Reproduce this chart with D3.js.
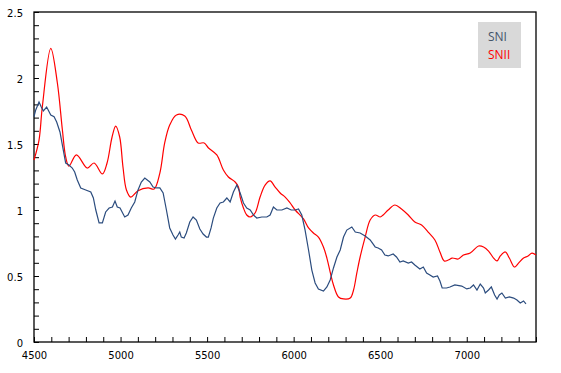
<!DOCTYPE html>
<html>
<head>
<meta charset="utf-8">
<script src="https://cdn.jsdelivr.net/npm/d3@7"></script>
<style>
  body { margin: 0; background: #fff; }
  .tick text { font-family: "DejaVu Sans", Verdana, sans-serif; font-size: 10px; fill: #000; }
  .legend text { font-family: "Open Sans", sans-serif; font-size: 12px; }
</style>
</head>
<body>
<div id="chart"></div>
<script>
// SNI spectrum (wavelength, relative flux)
var snIWave = [4500,4510,4529,4542,4554,4573,4597,4616,4631,4650,4669,4683,4702,4721,4735,4750,4770,4799,4828,4843,
    4857,4876,4895,4914,4934,4953,4968,4981,4997,5024,5043,5062,5082,5101,5120,5140,5169,5188,5207,5227,
    5246,5265,5284,5303,5317,5332,5342,5351,5367,5380,5400,5419,5438,5458,5477,5496,5507,5523,5536,5556,
    5575,5594,5614,5633,5652,5672,5691,5710,5729,5749,5768,5787,5816,5845,5864,5883,5903,5932,5961,5986,
    6009,6028,6047,6066,6086,6105,6124,6143,6172,6192,6211,6230,6250,6269,6288,6307,6336,6356,6384,6413,
    6442,6471,6488,6508,6527,6546,6575,6594,6614,6633,6662,6681,6700,6729,6749,6768,6787,6806,6831,6845,
    6858,6883,6903,6931,6971,7000,7020,7039,7059,7078,7097,7107,7126,7142,7161,7175,7188,7203,7223,7246,
    7271,7290,7309,7328,7342];
var snIFlux = [1.707,1.758,1.818,1.780,1.750,1.780,1.720,1.707,1.667,1.591,1.455,1.356,1.341,1.318,1.288,1.227,1.167,1.152,1.136,1.091,
    1.000,0.902,0.902,0.985,1.015,1.023,1.068,1.023,1.015,0.947,0.962,1.015,1.061,1.152,1.212,1.242,1.212,1.174,1.167,1.167,
    1.129,1.000,0.864,0.811,0.780,0.811,0.833,0.795,0.788,0.826,0.909,0.947,0.924,0.856,0.818,0.795,0.795,0.864,0.939,1.015,
    1.053,1.061,1.091,1.061,1.136,1.189,1.129,1.053,1.015,1.000,0.962,0.939,0.947,0.947,0.962,1.023,1.000,1.000,1.015,1.000,
    1.000,1.008,0.962,0.848,0.697,0.545,0.447,0.402,0.386,0.417,0.470,0.561,0.644,0.697,0.795,0.848,0.871,0.833,0.826,0.803,
    0.773,0.720,0.712,0.697,0.659,0.652,0.667,0.644,0.606,0.614,0.598,0.606,0.583,0.553,0.568,0.523,0.508,0.492,0.500,0.462,
    0.409,0.409,0.417,0.432,0.424,0.402,0.409,0.432,0.394,0.439,0.409,0.371,0.394,0.417,0.356,0.326,0.356,0.371,0.333,0.341,
    0.333,0.318,0.295,0.311,0.288];

// SNII spectrum
var snIIWave = [4500,4529,4548,4597,4635,4664,4683,4702,4745,4808,4847,4895,4922,4951,4972,4995,5014,5034,5059,5101,
    5159,5194,5227,5255,5284,5323,5371,5409,5448,5483,5508,5556,5594,5623,5662,5681,5691,5710,5729,5749,
    5777,5806,5835,5864,5893,5922,5951,5980,6009,6057,6086,6114,6143,6172,6192,6211,6230,6259,6288,6327,
    6346,6365,6384,6413,6442,6471,6500,6517,6546,6585,6623,6662,6700,6739,6777,6816,6845,6870,6893,6916,
    6951,6981,7020,7068,7097,7126,7155,7175,7194,7223,7246,7276,7299,7328,7354,7377,7400];
var snIIFlux = [1.379,1.530,1.780,2.225,1.962,1.606,1.402,1.333,1.417,1.318,1.356,1.273,1.356,1.553,1.636,1.553,1.326,1.152,1.098,1.146,
    1.167,1.159,1.280,1.508,1.644,1.720,1.712,1.606,1.508,1.508,1.470,1.417,1.303,1.250,1.212,1.174,1.098,1.015,0.962,0.947,
    0.977,1.098,1.189,1.220,1.174,1.129,1.098,1.053,1.000,0.932,0.864,0.826,0.795,0.720,0.636,0.530,0.432,0.341,0.326,0.333,
    0.394,0.523,0.644,0.795,0.924,0.962,0.947,0.962,1.000,1.038,1.008,0.962,0.909,0.886,0.833,0.773,0.682,0.614,0.621,0.636,
    0.629,0.659,0.674,0.727,0.720,0.689,0.636,0.614,0.652,0.682,0.636,0.568,0.598,0.636,0.652,0.674,0.659];

var xTickLabels = [4500, 5000, 5500, 6000, 6500, 7000];
var yTickLabels = [0, 0.5, 1, 1.5, 2, 2.5];
var seriesNames = ["SNI", "SNII"];

var width = 561, height = 373;
var margin = {top: 12, right: 25, bottom: 31, left: 34};

var svg = d3.select("#chart").append("svg")
    .attr("width", width)
    .attr("height", height);

var xScale = d3.scaleLinear().domain([4500, 7400]).range([margin.left, width - margin.right]);
var yScale = d3.scaleLinear().domain([0, 2.5]).range([height - margin.bottom, margin.top]);

// minor ticks every 100 / 0.1, labels only on the major ones
var xTicks = d3.range(4500, 7401, 100);
var yTicks = d3.range(0, 25).map(function(i){ return i / 10; });

var xAxis = d3.axisBottom(xScale)
    .tickValues(xTicks)
    .tickSize(-5)
    .tickPadding(10)
    .tickFormat(function(d){ return xTickLabels.indexOf(d) >= 0 ? d : ""; });

var yAxis = d3.axisLeft(yScale)
    .tickValues(yTicks.concat([2.5]))
    .tickSize(-5)
    .tickPadding(11)
    .tickFormat(function(d){
        var r = Math.round(d * 10) / 10;
        return yTickLabels.indexOf(r) >= 0 ? r : "";
    });

var gx = svg.append("g")
    .attr("transform", "translate(0," + (height - margin.bottom) + ")")
    .call(xAxis);
gx.select(".domain").remove();
gx.selectAll(".tick line").attr("stroke", "#000");

var gy = svg.append("g")
    .attr("transform", "translate(" + margin.left + ",0)")
    .call(yAxis);
gy.select(".domain").remove();
gy.selectAll(".tick line").attr("stroke", "#000");
gy.selectAll(".tick text").attr("dy", "0.4em");

// plot frame
svg.append("rect")
    .attr("x", margin.left)
    .attr("y", margin.top)
    .attr("width", width - margin.left - margin.right)
    .attr("height", height - margin.top - margin.bottom)
    .attr("fill", "none")
    .attr("stroke", "#000")
    .attr("stroke-width", 1.3);

var snI = snIWave.map(function(w, i){ return [w, snIFlux[i]]; });
var snII = snIIWave.map(function(w, i){ return [w, snIIFlux[i]]; });

var lineI = d3.line()
    .x(function(d){ return xScale(d[0]); })
    .y(function(d){ return yScale(d[1]); });

var lineII = d3.line()
    .curve(d3.curveCatmullRom)
    .x(function(d){ return xScale(d[0]); })
    .y(function(d){ return yScale(d[1]); });

svg.append("path")
    .datum(snII)
    .attr("d", lineII)
    .attr("fill", "none")
    .attr("stroke", "#ff0000")
    .attr("stroke-width", 1.2);

svg.append("path")
    .datum(snI)
    .attr("d", lineI)
    .attr("fill", "none")
    .attr("stroke", "#2b4c7e")
    .attr("stroke-width", 1.2);

// legend
var legend = svg.append("g").attr("class", "legend");
legend.append("rect")
    .attr("x", 478)
    .attr("y", 22)
    .attr("width", 43)
    .attr("height", 46)
    .attr("fill", "#d9d9d9");
legend.selectAll("text")
    .data(seriesNames)
    .enter()
    .append("text")
    .attr("x", 488)
    .attr("y", function(d, i){ return 41 + i * 17.7; })
    .attr("fill", function(d, i){ return i == 0 ? "#44546a" : "#ff0000"; })
    .text(function(d){ return d; });
</script>
</body>
</html>
